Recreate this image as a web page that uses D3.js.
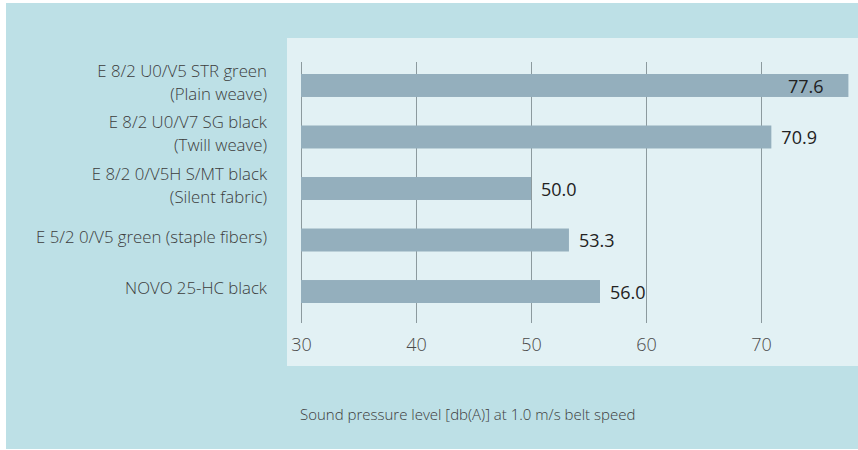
<!DOCTYPE html>
<html>
<head>
<meta charset="utf-8">
<script src="https://cdn.jsdelivr.net/npm/d3@7"></script>
<style>
  html, body { margin: 0; padding: 0; background: #ffffff; }
  svg { display: block; }
  text { font-family: "Open Sans", "Noto Sans", sans-serif; }
</style>
</head>
<body>
<svg id="chart" width="858" height="450"></svg>
<script>
const categories = [
  ["E 8/2 U0/V5 STR green", "(Plain weave)"],
  ["E 8/2 U0/V7 SG black", "(Twill weave)"],
  ["E 8/2 0/V5H S/MT black", "(Silent fabric)"],
  ["E 5/2 0/V5 green (staple fibers)"],
  ["NOVO 25-HC black"]
];
const values = [77.6, 70.9, 50.0, 53.3, 56.0];
const tickValues = [30, 40, 50, 60, 70];
const axisTitle = "Sound pressure level [db(A)] at 1.0 m/s belt speed";

const svg = d3.select("#chart");

// backgrounds
svg.append("rect").attr("x", 6).attr("y", 3).attr("width", 852).attr("height", 446).attr("fill", "#bde0e6");
svg.append("rect").attr("x", 287).attr("y", 38).attr("width", 571).attr("height", 328).attr("fill", "#e2f1f4");

const x = d3.scaleLinear().domain([30, 70]).range([301, 761]);
const y = d3.scaleBand()
  .domain(d3.range(categories.length))
  .range([74, 303])
  .paddingInner(0.554)
  .paddingOuter(0);

// gridlines (through bars region) & ticks
const axisG = svg.append("g").attr("transform", "translate(0,323)");
const axis = d3.axisBottom(x).tickValues(tickValues).tickSize(-261).tickPadding(15).tickFormat(d3.format("d"));
axisG.call(axis);
axisG.select(".domain").remove();
axisG.selectAll(".tick line").attr("stroke", "#8c9a9e").attr("stroke-width", 1);
axisG.selectAll(".tick text")
  .attr("fill", "#4a4a4a")
  .attr("font-size", "18px")
  .attr("font-weight", 300)
  .attr("font-family", "'Open Sans', 'Noto Sans', sans-serif");

// bars
svg.append("g").selectAll("rect")
  .data(values)
  .join("rect")
  .attr("x", x(30))
  .attr("y", (d, i) => y(i))
  .attr("width", d => x(d) - x(30))
  .attr("height", y.bandwidth())
  .attr("fill", "#94afbd");

// value labels
svg.append("g").selectAll("text")
  .data(values)
  .join("text")
  .attr("x", d => Math.min(x(d) + 10, 788))
  .attr("y", (d, i) => y(i) + y.bandwidth() / 2 + 1)
  .attr("dy", "0.35em")
  .attr("fill", "#222222")
  .attr("font-size", "18px")
  .text(d => d.toFixed(1));

// category labels
const lineH = 23;
const catG = svg.append("g");
categories.forEach((lines, i) => {
  const cy = y(i) + y.bandwidth() / 2 - 3;
  const t = catG.append("text")
    .attr("text-anchor", "end")
    .attr("fill", "#3c3c3c")
    .attr("font-size", "16.8px")
    .attr("font-weight", 300);
  lines.forEach((ln, j) => {
    t.append("tspan")
      .attr("x", 267)
      .attr("y", cy + (j - (lines.length - 1) / 2) * lineH)
      .attr("dy", "0.35em")
      .text(ln);
  });
});

// axis title
svg.append("text")
  .attr("x", 300)
  .attr("y", 415)
  .attr("dy", "0.35em")
  .attr("fill", "#3c3c3c")
  .attr("font-size", "15px")
  .attr("font-weight", 300)
  .text(axisTitle);
</script>
</body>
</html>
